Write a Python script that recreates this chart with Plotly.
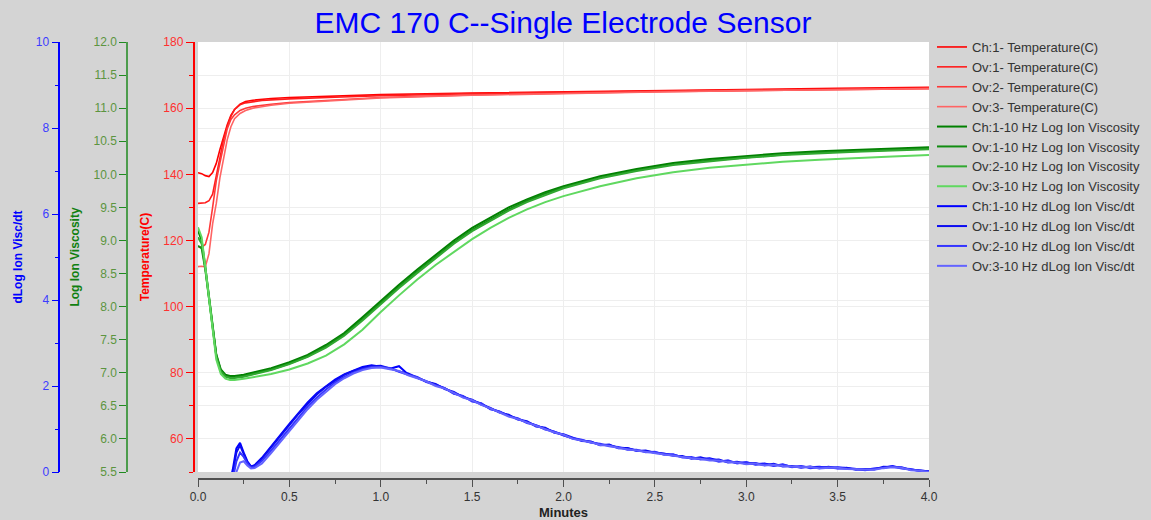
import plotly.graph_objects as go

# ---------------- data ----------------
minutes_temp = [0, 0.02, 0.04, 0.06, 0.08, 0.10, 0.12, 0.14, 0.16, 0.18, 0.20, 0.23, 0.26, 0.30,
                0.35, 0.40, 0.50, 0.75, 1.0, 1.5, 2.0, 2.5, 3.0, 3.5, 4.0]
temp_ch1 = [140.5, 140.2, 139.6, 139.3, 140.5, 143.3, 147.5, 151.4, 155.0, 157.8, 159.6, 161.2, 162.0,
            162.4, 162.7, 162.9, 163.2, 163.7, 164.1, 164.6, 165.0, 165.4, 165.7, 166.0, 166.3]
temp_ov1 = [131.2, 131.2, 131.4, 132.0, 134.0, 139.5, 145.3, 150.5, 154.4, 157.5, 159.6, 161.0, 161.6,
            162.0, 162.3, 162.5, 162.8, 163.3, 163.8, 164.4, 164.8, 165.2, 165.5, 165.8, 166.1]
temp_ov2 = [118.1, 118.0, 118.8, 122.5, 130.0, 138.0, 143.5, 149.0, 153.8, 156.6, 158.0, 159.3, 160.0,
            160.5, 160.9, 161.2, 161.7, 162.5, 163.2, 164.0, 164.6, 165.0, 165.3, 165.6, 165.9]
temp_ov3 = [112.1, 112.2, 112.0, 116.0, 125.0, 131.2, 139.0, 145.3, 150.5, 154.4, 156.8, 158.4, 159.3,
            160.0, 160.5, 160.9, 161.5, 162.4, 163.1, 163.9, 164.5, 164.9, 165.3, 165.6, 165.9]

minutes_visc = [0, 0.02, 0.04, 0.06, 0.08, 0.10, 0.125, 0.15, 0.175, 0.2, 0.25, 0.3, 0.4, 0.5, 0.6,
                0.7, 0.8, 0.9, 1.0, 1.1, 1.2, 1.3, 1.4, 1.5, 1.6, 1.7, 1.8, 1.9, 2.0, 2.2, 2.4, 2.6,
                2.8, 3.0, 3.2, 3.4, 3.6, 3.8, 4.0]
visc_ch1 = [9.15, 9.00, 8.60, 8.14, 7.66, 7.28, 7.05, 6.97, 6.95, 6.95, 6.97, 7.00, 7.07, 7.16, 7.27,
            7.42, 7.60, 7.84, 8.09, 8.33, 8.56, 8.78, 9.00, 9.19, 9.35, 9.50, 9.62, 9.73, 9.82, 9.97,
            10.08, 10.17, 10.23, 10.28, 10.32, 10.35, 10.37, 10.39, 10.41]
visc_ov1 = [8.92, 8.88, 8.56, 8.11, 7.64, 7.26, 7.03, 6.95, 6.93, 6.93, 6.95, 6.98, 7.05, 7.14, 7.25,
            7.40, 7.58, 7.81, 8.06, 8.30, 8.53, 8.75, 8.97, 9.16, 9.32, 9.47, 9.60, 9.71, 9.80, 9.95,
            10.06, 10.15, 10.21, 10.26, 10.30, 10.33, 10.35, 10.37, 10.39]
visc_ov2 = [9.05, 8.95, 8.58, 8.12, 7.64, 7.25, 7.02, 6.94, 6.92, 6.92, 6.94, 6.97, 7.04, 7.13, 7.24,
            7.38, 7.56, 7.79, 8.04, 8.28, 8.51, 8.73, 8.95, 9.14, 9.30, 9.45, 9.58, 9.69, 9.79, 9.94,
            10.05, 10.14, 10.20, 10.25, 10.29, 10.32, 10.34, 10.36, 10.38]
visc_ov3 = [9.20, 9.05, 8.60, 8.10, 7.60, 7.20, 6.98, 6.91, 6.89, 6.89, 6.91, 6.93, 6.98, 7.05, 7.14,
            7.26, 7.43, 7.65, 7.92, 8.17, 8.41, 8.63, 8.83, 9.02, 9.19, 9.34, 9.47, 9.58, 9.67, 9.82,
            9.94, 10.03, 10.10, 10.15, 10.19, 10.22, 10.25, 10.27, 10.29]

minutes_dvisc = [0.17, 0.19, 0.21, 0.23, 0.25, 0.27, 0.29, 0.31, 0.35, 0.40, 0.45, 0.50, 0.55, 0.60,
                 0.65, 0.70, 0.75, 0.80, 0.85, 0.90, 0.95, 1.00, 1.05, 1.10, 1.15, 1.20, 1.25, 1.30,
                 1.35, 1.40, 1.45, 1.50, 1.55, 1.60, 1.65, 1.70, 1.75, 1.80, 1.85, 1.90, 1.95, 2.00,
                 2.05, 2.10, 2.15, 2.20, 2.25, 2.30, 2.35, 2.40, 2.45, 2.50, 2.55, 2.60, 2.65, 2.70,
                 2.75, 2.80, 2.85, 2.90, 2.95, 3.00, 3.05, 3.10, 3.15, 3.20, 3.25, 3.30, 3.35, 3.40,
                 3.45, 3.50, 3.55, 3.60, 3.65, 3.70, 3.75, 3.80, 3.85, 3.90, 3.95, 4.00]
dvisc_ch1 = [-0.3, 0.05, 0.55, 0.68, 0.45, 0.25, 0.13, 0.16, 0.33, 0.60, 0.86, 1.12, 1.37, 1.62,
             1.83, 2.00, 2.15, 2.27, 2.36, 2.44, 2.48, 2.45, 2.40, 2.46, 2.27, 2.19, 2.12, 2.03,
             1.95, 1.83, 1.76, 1.66, 1.59, 1.47, 1.40, 1.31, 1.24, 1.16, 1.08, 1.01, 0.93, 0.86,
             0.78, 0.74, 0.70, 0.64, 0.62, 0.57, 0.55, 0.50, 0.48, 0.46, 0.42, 0.40, 0.35, 0.33,
             0.30, 0.32, 0.26, 0.25, 0.21, 0.22, 0.18, 0.20, 0.15, 0.17, 0.12, 0.13, 0.11, 0.12,
             0.10, 0.11, 0.09, 0.06, 0.05, 0.08, 0.10, 0.14, 0.09, 0.06, 0.03, 0.01]
dvisc_ov1 = [-0.4, -0.05, 0.45, 0.62, 0.42, 0.22, 0.12, 0.15, 0.31, 0.57, 0.83, 1.10, 1.35, 1.58,
             1.80, 1.98, 2.13, 2.26, 2.35, 2.42, 2.46, 2.47, 2.41, 2.34, 2.29, 2.20, 2.10, 2.05,
             1.93, 1.86, 1.74, 1.68, 1.57, 1.49, 1.38, 1.33, 1.22, 1.18, 1.06, 1.03, 0.91, 0.88,
             0.80, 0.72, 0.71, 0.62, 0.64, 0.55, 0.56, 0.49, 0.50, 0.44, 0.43, 0.38, 0.37, 0.31,
             0.34, 0.28, 0.29, 0.22, 0.24, 0.19, 0.21, 0.16, 0.19, 0.13, 0.14, 0.10, 0.13, 0.09,
             0.12, 0.09, 0.10, 0.05, 0.07, 0.06, 0.12, 0.12, 0.11, 0.05, 0.04, 0.02]
dvisc_ov2 = [-0.6, -0.2, 0.25, 0.45, 0.35, 0.20, 0.10, 0.12, 0.26, 0.50, 0.76, 1.02, 1.28, 1.52,
             1.73, 1.92, 2.08, 2.21, 2.31, 2.39, 2.44, 2.44, 2.42, 2.33, 2.26, 2.21, 2.09, 2.02,
             1.95, 1.82, 1.77, 1.64, 1.60, 1.46, 1.41, 1.30, 1.25, 1.14, 1.09, 0.99, 0.94, 0.85,
             0.79, 0.75, 0.68, 0.66, 0.60, 0.58, 0.52, 0.52, 0.46, 0.47, 0.40, 0.41, 0.34, 0.35,
             0.29, 0.30, 0.24, 0.27, 0.20, 0.23, 0.17, 0.18, 0.14, 0.18, 0.11, 0.14, 0.09, 0.11,
             0.11, 0.08, 0.08, 0.07, 0.04, 0.07, 0.11, 0.13, 0.08, 0.07, 0.02, 0.01]
dvisc_ov3 = [-0.8, -0.4, 0.0, 0.22, 0.25, 0.15, 0.08, 0.09, 0.20, 0.44, 0.70, 0.96, 1.22, 1.46,
             1.68, 1.87, 2.04, 2.18, 2.29, 2.37, 2.42, 2.43, 2.39, 2.35, 2.25, 2.18, 2.11, 2.00,
             1.94, 1.84, 1.73, 1.67, 1.56, 1.48, 1.39, 1.29, 1.23, 1.15, 1.07, 1.00, 0.92, 0.87,
             0.77, 0.73, 0.69, 0.63, 0.61, 0.56, 0.53, 0.51, 0.47, 0.45, 0.41, 0.39, 0.36, 0.32,
             0.31, 0.27, 0.27, 0.23, 0.22, 0.18, 0.20, 0.15, 0.17, 0.14, 0.13, 0.11, 0.12, 0.08,
             0.10, 0.10, 0.07, 0.06, 0.06, 0.05, 0.09, 0.11, 0.10, 0.04, 0.03, 0.00]

temp_names = ["Ch:1- Temperature(C)", "Ov:1- Temperature(C)", "Ov:2- Temperature(C)", "Ov:3- Temperature(C)"]
visc_names = ["Ch:1-10 Hz Log Ion Viscosity", "Ov:1-10 Hz Log Ion Viscosity",
              "Ov:2-10 Hz Log Ion Viscosity", "Ov:3-10 Hz Log Ion Viscosity"]
dvisc_names = ["Ch:1-10 Hz dLog Ion Visc/dt", "Ov:1-10 Hz dLog Ion Visc/dt",
               "Ov:2-10 Hz dLog Ion Visc/dt", "Ov:3-10 Hz dLog Ion Visc/dt"]

temp_colors = ["#ff0000", "#ff1c1c", "#ff3838", "#ff6464"]
visc_colors = ["#008000", "#128c12", "#30a830", "#60d860"]
dvisc_colors = ["#0000ff", "#0c0cf0", "#3434ff", "#6464ff"]

# ---------------- figure ----------------
W, H = 1151, 520
FONT = "Liberation Sans, Arial, sans-serif"
top_px, bottom_px = 42, 479
plot_h = bottom_px - top_px
y_dom0 = (bottom_px - 472) / plot_h

fig = go.Figure()

for name, ys, col in zip(temp_names, [temp_ch1, temp_ov1, temp_ov2, temp_ov3], temp_colors):
    fig.add_trace(go.Scatter(x=minutes_temp, y=ys, name=name, mode="lines",
                             line=dict(color=col, width=1.6), yaxis="y"))
for name, ys, col in zip(visc_names, [visc_ch1, visc_ov1, visc_ov2, visc_ov3], visc_colors):
    fig.add_trace(go.Scatter(x=minutes_visc, y=ys, name=name, mode="lines",
                             line=dict(color=col, width=2), yaxis="y2"))
for name, ys, col in zip(dvisc_names, [dvisc_ch1, dvisc_ov1, dvisc_ov2, dvisc_ov3], dvisc_colors):
    fig.add_trace(go.Scatter(x=minutes_dvisc, y=ys, name=name, mode="lines",
                             line=dict(color=col, width=2), yaxis="y3"))

grid_col = "#eeeeee"

fig.update_layout(
    width=W, height=H,
    margin=dict(l=0, r=0, t=top_px, b=H - bottom_px, pad=0),
    paper_bgcolor="#d4d4d4",
    plot_bgcolor="#ffffff",
    font=dict(family=FONT, size=12, color="#333333"),
    title=dict(text="EMC 170 C--Single Electrode Sensor", x=563 / W, xanchor="center",
               y=1 - 22 / H, yanchor="middle", yref="container",
               font=dict(family=FONT, size=30, color="#0000ff")),
    showlegend=True,
    legend=dict(x=932 / W, xanchor="left", y=1 + 10 / plot_h, yanchor="top",
                bgcolor="rgba(0,0,0,0)", tracegroupgap=0,
                font=dict(family=FONT, size=13, color="#333333")),
    xaxis=dict(domain=[198 / W, 929 / W], range=[0, 4], anchor="free", position=0,
               dtick=0.5, tickformat=".1f", ticks="outside", ticklen=7, tickwidth=1,
               tickcolor="#505050", showline=True, linecolor="#505050", linewidth=2,
               showgrid=True, gridcolor=grid_col, zeroline=False, automargin=False,
               minor=dict(dtick=0.25, ticklen=4, tickcolor="#505050", showgrid=False),
               tickfont=dict(size=12, color="#333333"),
               title=dict(text="<b>Minutes</b>", standoff=4,
                          font=dict(size=13, color="#222222"))),
    yaxis=dict(domain=[y_dom0, 1], range=[50, 180], anchor="free", position=193.5 / W,
               side="left", dtick=20, ticks="outside", ticklen=7, tickcolor="#ff0000",
               showline=True, linecolor="#ff0000", linewidth=1.5,
               showgrid=True, gridcolor=grid_col, zeroline=False, automargin=False,
               minor=dict(dtick=10, ticklen=4, tickcolor="#ff0000", showgrid=True,
                          gridcolor=grid_col),
               tickfont=dict(size=12, color="#ff3030"),
               title=dict(text="<b>Temperature(C)</b>", standoff=10,
                          font=dict(size=12, color="#ff0000"))),
    yaxis2=dict(domain=[y_dom0, 1], range=[5.5, 12], overlaying="y", anchor="free",
                position=127 / W, side="left", dtick=0.5, tickformat=".1f",
                ticks="outside", ticklen=7, tickcolor="#208a20",
                showline=True, linecolor="#4c9c4c", linewidth=1.5,
                showgrid=False, zeroline=False, automargin=False,
                tickfont=dict(size=12, color="#5c9440"),
                title=dict(text="<b>Log Ion Viscosity</b>", standoff=10,
                           font=dict(size=12, color="#108010"))),
    yaxis3=dict(domain=[y_dom0, 1], range=[0, 10], overlaying="y", anchor="free",
                position=59.3 / W, side="left", dtick=2, ticks="outside", ticklen=7,
                tickcolor="#0000ff", showline=True, linecolor="#0000ff", linewidth=1.5,
                showgrid=True, gridcolor=grid_col, zeroline=False, automargin=False,
                minor=dict(dtick=1, ticklen=4, tickcolor="#0000ff", showgrid=False),
                tickfont=dict(size=12, color="#3c3cff"),
                title=dict(text="<b>dLog Ion Visc/dt</b>", standoff=10,
                           font=dict(size=12, color="#0000ff"))),
)

fig.write_html("out.html", config={"displayModeBar": False},
               post_script="document.body.style.margin='0';document.body.style.overflow='hidden';")
